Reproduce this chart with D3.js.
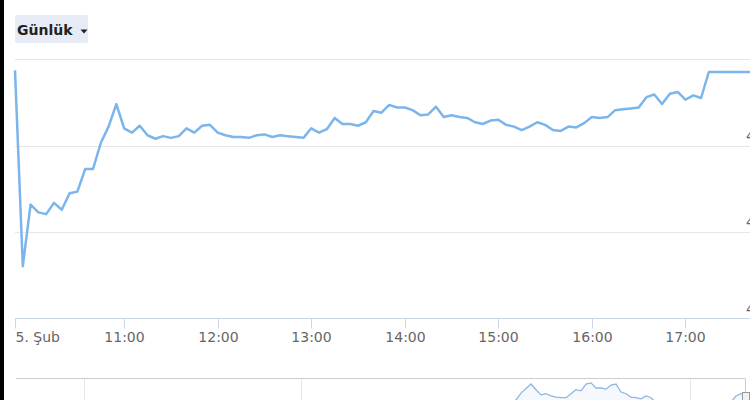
<!DOCTYPE html>
<html>
<head>
<meta charset="utf-8">
<script src="https://cdn.jsdelivr.net/npm/d3@7"></script>
<style>
  body { margin: 0; background: #fff; }
  svg { display: block; font-family: "DejaVu Sans", sans-serif; }
</style>
</head>
<body>
<div id="chart"></div>
<script>
// intraday prices, 5 minute bars, 5 Feb
const times = [
  "09:50", "09:55",
  "10:00", "10:05", "10:10", "10:15", "10:20", "10:25", "10:30", "10:35", "10:40", "10:45", "10:50", "10:55",
  "11:00", "11:05", "11:10", "11:15", "11:20", "11:25", "11:30", "11:35", "11:40", "11:45", "11:50", "11:55",
  "12:00", "12:05", "12:10", "12:15", "12:20", "12:25", "12:30", "12:35", "12:40", "12:45", "12:50", "12:55",
  "13:00", "13:05", "13:10", "13:15", "13:20", "13:25", "13:30", "13:35", "13:40", "13:45", "13:50", "13:55",
  "14:00", "14:05", "14:10", "14:15", "14:20", "14:25", "14:30", "14:35", "14:40", "14:45", "14:50", "14:55",
  "15:00", "15:05", "15:10", "15:15", "15:20", "15:25", "15:30", "15:35", "15:40", "15:45", "15:50", "15:55",
  "16:00", "16:05", "16:10", "16:15", "16:20", "16:25", "16:30", "16:35", "16:40", "16:45", "16:50", "16:55",
  "17:00", "17:05", "17:10", "17:15", "17:20", "17:25", "17:30", "17:35", "17:40", "17:45"
];
const prices = [
  4.387, 4.161,
  4.232, 4.223, 4.221, 4.234, 4.226, 4.245, 4.247, 4.273, 4.273, 4.303, 4.322, 4.348,
  4.320, 4.315, 4.323, 4.312, 4.308, 4.311, 4.309, 4.311, 4.320, 4.315, 4.323, 4.324,
  4.315, 4.312, 4.310, 4.310, 4.309, 4.312, 4.313, 4.310, 4.312, 4.311, 4.310, 4.309,
  4.320, 4.315, 4.319, 4.332, 4.325, 4.325, 4.323, 4.327, 4.340, 4.338, 4.347, 4.344,
  4.344, 4.341, 4.335, 4.336, 4.345, 4.333, 4.335, 4.333, 4.332, 4.327, 4.325, 4.329,
  4.330, 4.324, 4.322, 4.318, 4.322, 4.327, 4.324, 4.318, 4.317, 4.322, 4.321, 4.326,
  4.333, 4.332, 4.333, 4.341, 4.342, 4.343, 4.344, 4.356, 4.359, 4.348, 4.360, 4.362,
  4.353, 4.358, 4.355, 4.385, 4.385, 4.385, 4.385, 4.385, 4.385, 4.385
];

const tickTimes = ["09:50", "11:00", "12:00", "13:00", "14:00", "15:00", "16:00", "17:00"];
const tickLabels = ["5. Şub", "11:00", "12:00", "13:00", "14:00", "15:00", "16:00", "17:00"];
const yTicks = [4.10, 4.20, 4.30, 4.40];

// navigator (longer history, ordinal positions)
const navIdx = [0, 8, 16, 24, 32, 40, 48, 56, 64, 72, 80, 88, 94, 98,
  100, 101, 103, 104, 105, 106, 107, 108, 109, 110, 111, 112, 113, 114, 115, 116, 117, 118,
  119, 120, 121, 122, 123, 124, 125, 126, 127, 128, 132, 136, 140, 143, 144, 145, 146];
const navPrices = [3.96, 3.99, 3.94, 3.98, 4.02, 3.97, 4.00, 4.03, 3.99, 4.05, 4.02, 4.06, 4.04, 4.06,
  4.15, 4.27, 4.43, 4.33, 4.24, 4.26, 4.22, 4.20, 4.19, 4.19, 4.26, 4.33, 4.31, 4.43, 4.45, 4.36, 4.36, 4.34,
  4.41, 4.43, 4.29, 4.26, 4.20, 4.19, 4.17, 4.22, 4.19, 4.10, 4.05, 4.03, 4.06, 4.12, 4.22, 4.26, 4.27];
const navGrid = [13.6, 57, 134.8];

const width = 750, height = 400;
const parseTime = d3.timeParse("%Y-%m-%d %H:%M");
const day = "2019-02-05 ";
const data = times.map((t, i) => ({ time: parseTime(day + t), price: prices[i] }));

const svg = d3.select("#chart").append("svg")
    .attr("width", width)
    .attr("height", height);

const xScale = d3.scaleTime()
    .domain([parseTime(day + "09:50"), parseTime(day + "18:00")])
    .range([15, 779]);

const yScale = d3.scaleLinear()
    .domain([4.10, 4.40])
    .range([319, 59]);

// range selector button
svg.append("rect")
    .attr("x", 15).attr("y", 15)
    .attr("width", 73).attr("height", 28)
    .attr("rx", 2)
    .attr("fill", "#e6ebf5");
svg.append("text")
    .attr("x", 17).attr("y", 35)
    .attr("font-size", "14px")
    .attr("font-weight", "bold")
    .attr("fill", "#222")
    .text("Günlük");
svg.append("path")
    .attr("d", "M80.5,29.5 L87.5,29.5 L84,33.5 Z")
    .attr("fill", "#222");

// horizontal grid lines
svg.append("g").selectAll("line")
    .data(yTicks.slice(1))
    .enter().append("line")
    .attr("x1", 15).attr("x2", 780)
    .attr("y1", d => Math.round(yScale(d)) + 0.5)
    .attr("y2", d => Math.round(yScale(d)) + 0.5)
    .attr("stroke", "#e6e6e6")
    .attr("stroke-width", 1);

// y labels sit on the right, mostly outside the picture
svg.append("g").selectAll("text")
    .data(yTicks.slice(0, 3))
    .enter().append("text")
    .attr("x", 746)
    .attr("y", d => yScale(d) - 5)
    .attr("font-size", "14px")
    .attr("fill", "#666")
    .text(d => d.toFixed(2).replace(".", ","));

// x axis
const xAxis = svg.append("g");
xAxis.append("line")
    .attr("x1", 15).attr("x2", 780)
    .attr("y1", 318.5).attr("y2", 318.5)
    .attr("stroke", "#ccd6eb");
const ticks = xAxis.selectAll(".tick")
    .data(tickTimes)
    .enter().append("g")
    .attr("class", "tick")
    .attr("transform", d => `translate(${Math.round(xScale(parseTime(day + d))) + 0.5},0)`);
ticks.append("line")
    .attr("y1", 318.5).attr("y2", 328.5)
    .attr("stroke", "#ccd6eb");
ticks.append("text")
    .attr("y", 342)
    .attr("font-size", "14px")
    .attr("fill", "#666")
    .attr("text-anchor", (d, i) => i === 0 ? "start" : "middle")
    .text((d, i) => tickLabels[i]);

// price line
const line = d3.line()
    .x(d => xScale(d.time))
    .y(d => yScale(d.price));

svg.append("path")
    .datum(data)
    .attr("fill", "none")
    .attr("stroke", "#7cb5ec")
    .attr("stroke-width", 2.5)
    .attr("stroke-linejoin", "round")
    .attr("d", line);

// navigator
const navX = d3.scaleLinear().domain([0, 146]).range([16, 746]);
const navY = d3.scaleLinear().domain([3.80, 4.50]).range([420, 380]);
const navData = navIdx.map((d, i) => ({ idx: d, price: navPrices[i] }));

svg.append("clipPath").attr("id", "navClip")
  .append("rect").attr("x", 16).attr("y", 379).attr("width", 730).attr("height", 40);

const nav = svg.append("g");
nav.selectAll(".nav-grid")
    .data(navGrid)
    .enter().append("line")
    .attr("x1", d => Math.round(navX(d)) + 0.5)
    .attr("x2", d => Math.round(navX(d)) + 0.5)
    .attr("y1", 378).attr("y2", 400)
    .attr("stroke", "#e6e6e6");

nav.append("path")
    .datum(navData)
    .attr("clip-path", "url(#navClip)")
    .attr("fill", "rgba(124,181,236,0.08)")
    .attr("d", d3.area().x(d => navX(d.idx)).y0(420).y1(d => navY(d.price)));
nav.append("path")
    .datum(navData)
    .attr("clip-path", "url(#navClip)")
    .attr("fill", "none")
    .attr("stroke", "#8fb6de")
    .attr("stroke-width", 1.3)
    .attr("d", d3.line().x(d => navX(d.idx)).y(d => navY(d.price)));

nav.append("path")
    .attr("d", "M16,378.5 H745.5 V420")
    .attr("fill", "none")
    .attr("stroke", "#cccccc");
nav.append("rect")
    .attr("x", 742.5).attr("y", 392.5)
    .attr("width", 7).attr("height", 14)
    .attr("fill", "#f2f2f2")
    .attr("stroke", "#999");

// left border of the screenshot
svg.append("rect")
    .attr("x", 0).attr("y", 0)
    .attr("width", 4).attr("height", height)
    .attr("fill", "#000");
</script>
</body>
</html>
